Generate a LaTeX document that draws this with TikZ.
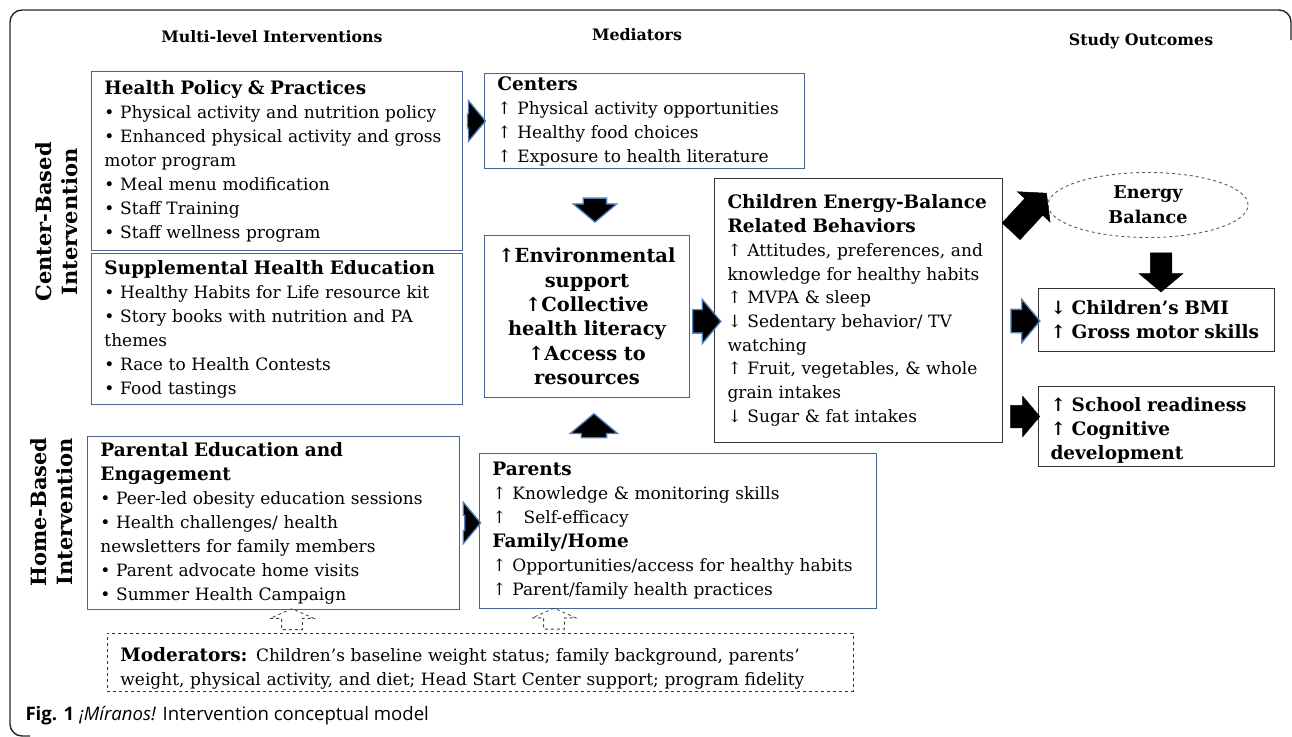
\documentclass[tikz,border=0pt]{standalone}
\usepackage{fontspec}
\setmainfont{DejaVu Serif}
\newfontfamily\capfont{Open Sans}
\usepackage{tikz}
\usetikzlibrary{
    arrows.meta,
    positioning,
    calc,
    shapes.geometric,
    shapes.arrows
}

\definecolor{boxblue}{HTML}{4A6591}
\definecolor{arrowblue}{HTML}{4F81BD}

\newcommand{\bodysize}{\fontsize{17}{24}\selectfont}
\newcommand{\ttl}[1]{{\fontsize{18.5}{24}\selectfont\bfseries #1}}

\tikzset{
    bluebox/.style={draw=boxblue, line width=0.9pt, anchor=north west,
        align=left, inner xsep=13pt, inner ysep=2pt, font=\bodysize},
    darkbox/.style={bluebox, draw=black!80, line width=1pt},
    header/.style={font=\fontsize{15.8}{18}\selectfont\bfseries},
    sidelabel/.style={font=\fontsize{21}{26}\selectfont\bfseries,
        align=center, rotate=90},
    fatarrow/.style={single arrow, fill=black, draw=arrowblue,
        line width=1.3pt, inner sep=0pt, single arrow head indent=0pt,
        single arrow tip angle=100, sloped, allow upside down},
    blackarrow/.style={fatarrow, draw=black, line width=0.5pt},
    modarrow/.style={fatarrow, fill=none, draw=black!75, dashed,
        line width=0.8pt, single arrow tip angle=132}
}

\begin{document}
\begin{tikzpicture}[x=1pt,y=-1pt]
\useasboundingbox (0,0) rectangle (1292,736);

% frame
\draw[black!85, line width=1.4pt, rounded corners=12pt]
(30,736) -- (10,736) -- (10,10) -- (1291,10) -- (1291,40);

% column heads
\node[header] (hmli) at (272,37) {Multi-level Interventions};
\node[header] (hmed) at (637,35) {Mediators};
\node[header] (hout) at (1141,41) {Study Outcomes};

\node[sidelabel] (cbi) at (57,222) {Center-Based\\Intervention};
\node[sidelabel] (hbi) at (52,512) {Home-Based\\Intervention};

% interventions
\node[bluebox, text width=345pt, minimum width=371pt, minimum height=179pt]
(hpp) at (91,71) {\ttl{Health Policy \& Practices}\\
• Physical activity and nutrition policy\\
• Enhanced physical activity and gross\\
motor program\\
• Meal menu modification\\
• Staff Training\\
• Staff wellness program};

\node[bluebox, text width=345pt, minimum width=371pt, minimum height=151pt]
(she) at (91,253) {\ttl{Supplemental Health Education}\\
• Healthy Habits for Life resource kit\\
• Story books with nutrition and PA\\
themes\\
• Race to Health Contests\\
• Food tastings};

\node[bluebox, text width=346pt, minimum width=372pt, minimum height=173pt]
(pe) at (87,436) {\ttl{Parental Education and}\\
\ttl{Engagement}\\
• Peer-led obesity education sessions\\
• Health challenges/ health\\
newsletters for family members\\
• Parent advocate home visits\\
• Summer Health Campaign};

% mediators
\node[bluebox, text width=294pt, minimum width=320pt, minimum height=95pt]
(ctr) at (484,73) {\ttl{Centers}\\
↑ Physical activity opportunities\\
↑ Healthy food choices\\
↑ Exposure to health literature};

\node[bluebox, align=center, text width=181pt, minimum width=205pt,
      inner xsep=12pt, minimum height=162pt,
      font=\fontsize{19.4}{24.3}\selectfont\bfseries]
(env) at (484,235) {↑Environmental\\
support\\
↑Collective\\
health literacy\\
↑Access to\\
resources};

\node[bluebox, text width=371pt, minimum width=397pt, minimum height=155pt]
(par) at (479,453) {\ttl{Parents}\\
↑ Knowledge \& monitoring skills\\
↑\ \ \ Self-efficacy\\
\ttl{Family/Home}\\
↑ Opportunities/access for healthy habits\\
↑ Parent/family health practices};

% outcomes
\node[darkbox, inner xsep=13pt, text width=262pt, minimum width=288pt,
      minimum height=264pt, font=\fontsize{17}{23.7}\selectfont]
(cebr) at (714,178) {\ttl{Children Energy-Balance}\\
\ttl{Related Behaviors}\\
↑ Attitudes, preferences, and\\
knowledge for healthy habits\\
↑ MVPA \& sleep\\
↓ Sedentary behavior/ TV\\
watching\\
↑ Fruit, vegetables, \& whole\\
grain intakes\\
↓ Sugar \& fat intakes\\[10pt]};

\node[ellipse, draw=black!65, dashed, line width=0.9pt, inner sep=0pt,
      minimum width=200pt, minimum height=65pt, align=center,
      font=\fontsize{17.6}{25}\selectfont\bfseries]
(eb) at (1148,205) {Energy\\Balance};

\node[darkbox, inner xsep=12pt, text width=212pt, minimum width=236pt,
      minimum height=63pt]
(bmi) at (1038,288) {\ttl{↓ Children’s BMI}\\
\ttl{↑ Gross motor skills}};

\node[darkbox, inner xsep=12pt, text width=212pt, minimum width=236pt,
      minimum height=80pt]
(school) at (1038,386) {\rule{0pt}{22pt}\ttl{↑ School readiness}\\
\ttl{↑ Cognitive}\\
\ttl{development}};

% moderators
\node[bluebox, draw=black!80, dashed, line width=0.8pt, text width=720pt,
      minimum width=746pt, minimum height=58pt]
(mod) at (107,633) {\rule{0pt}{26pt}\ttl{Moderators:} Children’s baseline weight status; family background, parents’\\
weight, physical activity, and diet; Head Start Center support; program fidelity};

% arrows
\path (hpp.east |- ctr.west) -- node[fatarrow, minimum height=18pt,
    inner ysep=6.5pt, minimum width=39pt, single arrow head extend=13pt]
    (arhc) {} (ctr.west);
\path ($(env.north |- ctr.south)+(8,0)$) -- node[fatarrow, pos=0.55,
    minimum height=24pt, inner ysep=11pt, minimum width=42pt,
    single arrow head extend=10pt] (arce) {} ($(env.north)+(8,0)$);
\path ($(env.south |- par.north)+(7,0)$) -- node[fatarrow, pos=0.4,
    minimum height=24pt, inner ysep=12pt, minimum width=46pt,
    single arrow head extend=11pt] (arpe) {} ($(env.south)+(7,0)$);
\path ($(env.east)+(0,5)$) -- node[fatarrow, minimum height=28pt,
    inner ysep=11pt, minimum width=43pt, single arrow head extend=10.5pt]
    (arec) {} ($(env.east -| cebr.west)+(0,5)$);
\path ($(cebr.north east)+(0,62)$) -- node[blackarrow, minimum height=52pt,
    inner ysep=12pt, minimum width=44pt, single arrow head extend=10pt]
    (arcb) {} ($(eb.west)+(0,-13)$);
\path ($(eb.south)+(13,0)$) -- node[blackarrow, pos=0.6, minimum height=39pt,
    inner ysep=10.5pt, minimum width=43pt, single arrow head extend=11pt]
    (areb) {} ($(eb.south |- bmi.north)+(13,0)$);
\path ($(bmi.west -| cebr.east)+(0,1)$) -- node[fatarrow, minimum height=29pt,
    inner ysep=11pt, minimum width=42pt, single arrow head extend=10pt]
    (arcm) {} ($(bmi.west)+(0,1)$);
\path ($(school.west -| cebr.east)+(0,-10)$) -- node[blackarrow,
    minimum height=29pt, inner ysep=11pt, minimum width=40pt,
    single arrow head extend=9pt] (arcs) {} ($(school.west)+(0,-10)$);
\path (pe.east) -- node[fatarrow, minimum height=16pt, inner ysep=7pt,
    minimum width=40pt, single arrow head extend=13pt]
    (arpp) {} (pe.east -| par.west);

% moderator arrows
\path ($(mod.north west)+(185,0)$) -- node[modarrow, minimum height=21pt,
    inner ysep=10pt, minimum width=43pt, single arrow head extend=11.5pt]
    (arm1) {} ($(mod.north west |- pe.south)+(185,0)$);
\path ($(mod.north west)+(447,0)$) -- node[modarrow, minimum height=21pt,
    inner ysep=10pt, minimum width=43pt, single arrow head extend=11.5pt]
    (arm2) {} ($(mod.north west |- par.south)+(447,0)$);

% caption
\node[anchor=west, font=\capfont\fontsize{18.6}{22}\selectfont] (cap) at (22,716)
{\textbf{Fig. 1} \textit{¡Míranos!} Intervention conceptual model};

\end{tikzpicture}
\end{document}
